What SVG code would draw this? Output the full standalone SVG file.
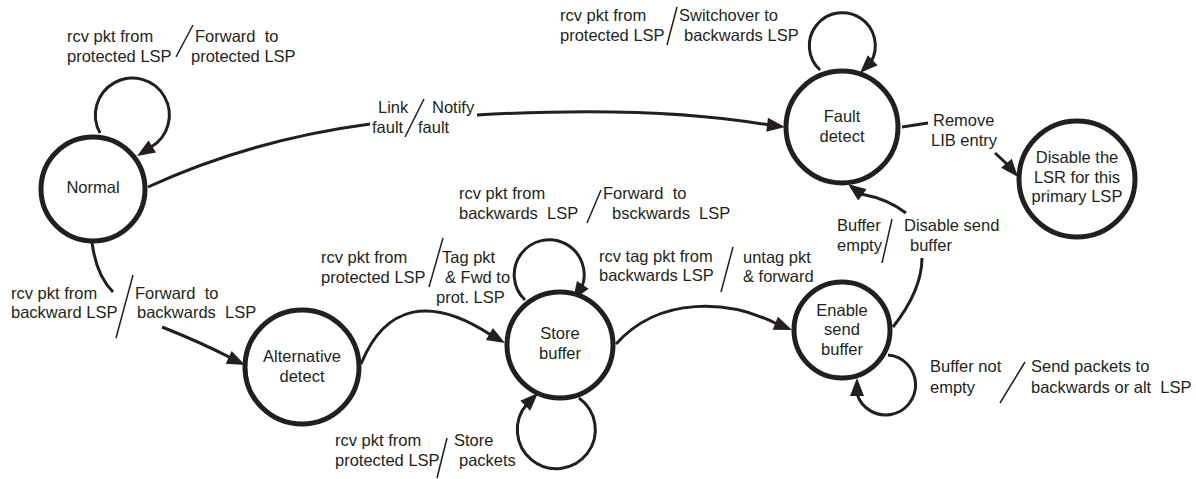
<svg xmlns="http://www.w3.org/2000/svg" xmlns:xlink="http://www.w3.org/1999/xlink" width="1196" height="479" viewBox="0 0 1196 479">
<style>
text{font-family:"Liberation Sans",Arial,sans-serif;font-size:16.5px;fill:#231f20}
.c{text-anchor:middle}
.node{fill:#fff;stroke:#231f20;stroke-width:5}
.edge{fill:none;stroke:#231f20;stroke-width:3}
.sl{fill:none;stroke:#231f20;stroke-width:1.5}
.ah{fill:#231f20}
</style>
<defs>
<path id="ah" d="M0,0 L-18,-7 L-18,7 Z"/>
</defs>
<rect width="1196" height="479" fill="#fff"/>
<g id="connectors">
<path class="edge" d="M100,133 A37,37 0 1 1 151,147"/>
<use href="#ah" class="ah" transform="translate(137,156) rotate(148)"/>
<path class="edge" d="M148,187 Q250,140 370,124"/>
<path class="edge" d="M477,115 C600,108 700,113 769,125"/>
<use href="#ah" class="ah" transform="translate(785,127) rotate(7)"/>
<path class="edge" d="M820,70 A33,33 0 1 1 871,62"/>
<use href="#ah" class="ah" transform="translate(860,73) rotate(135)"/>
<path class="edge" d="M902,127 L928,123"/>
<path class="edge" d="M995,153 L1008,165"/>
<use href="#ah" class="ah" transform="translate(1018,177) rotate(50)"/>
<path class="edge" d="M92,242 Q96,275 113,292"/>
<path class="edge" d="M162,327 Q200,342 231,358"/>
<use href="#ah" class="ah" transform="translate(245,365) rotate(25)"/>
<path class="edge" d="M361,364 C385,305 430,295 491,335"/>
<use href="#ah" class="ah" transform="translate(505,343) rotate(30)"/>
<path class="edge" d="M525,300 A35,35 0 1 1 582,287"/>
<use href="#ah" class="ah" transform="translate(573,300) rotate(123)"/>
<path class="edge" d="M579,398 A39,39 0 1 1 527,404"/>
<use href="#ah" class="ah" transform="translate(538,393) rotate(-45)"/>
<path class="edge" d="M616,344 C660,295 730,300 777,324"/>
<use href="#ah" class="ah" transform="translate(792,330) rotate(22)"/>
<path class="edge" d="M893,327 Q922,290 922,258"/>
<path class="edge" d="M906,213 Q888,199 861,194"/>
<use href="#ah" class="ah" transform="translate(848,184) rotate(-143)"/>
<path class="edge" d="M888,355 A30,30 0 1 1 857,394"/>
<use href="#ah" class="ah" transform="translate(857,378) rotate(-90)"/>
</g>
<g id="labels">
<text x="67" y="42">rcv pkt from</text>
<text x="67" y="62">protected LSP</text>
<path class="sl" d="M193,25 L176,57"/>
<text x="195" y="42" xml:space="preserve">Forward  to</text>
<text x="191" y="62">protected LSP</text>

<text x="378" y="113">Link</text>
<text x="372" y="133">fault</text>
<path class="sl" d="M424,99 L405,137"/>
<text x="432" y="113">Notify</text>
<text x="418" y="133">fault</text>

<text x="560" y="21">rcv pkt from</text>
<text x="560" y="41">protected LSP</text>
<path class="sl" d="M677,7 L667,45"/>
<text x="679" y="21">Switchover to</text>
<text x="684" y="41">backwards LSP</text>

<text x="933" y="126">Remove</text>
<text x="931" y="146">LIB entry</text>

<text x="837" y="231">Buffer</text>
<text x="837" y="251">empty</text>
<path class="sl" d="M892,219 L882,263"/>
<text x="904" y="231">Disable send</text>
<text x="910" y="251">buffer</text>

<text x="459" y="199">rcv pkt from</text>
<text x="459" y="219" xml:space="preserve">backwards  LSP</text>
<path class="sl" d="M601,190 L587,223"/>
<text x="603" y="199" xml:space="preserve">Forward  to</text>
<text x="612" y="219" xml:space="preserve">bsckwards  LSP</text>

<text x="321" y="263">rcv pkt from</text>
<text x="321" y="283">protected LSP</text>
<path class="sl" d="M443,238 L429,287"/>
<text x="442" y="263">Tag pkt</text>
<text x="445" y="283">&amp; Fwd to</text>
<text x="436" y="303">prot. LSP</text>

<text x="599" y="262">rcv tag pkt from</text>
<text x="599" y="281">backwards LSP</text>
<path class="sl" d="M733,247 L721,292"/>
<text x="743" y="263">untag pkt</text>
<text x="743" y="282">&amp; forward</text>

<text x="335" y="446">rcv pkt from</text>
<text x="335" y="466">protected LSP</text>
<path class="sl" d="M447,438 L437,478"/>
<text x="454" y="446">Store</text>
<text x="459" y="466">packets</text>

<text x="930" y="372">Buffer not</text>
<text x="930" y="393">empty</text>
<path class="sl" d="M1025,362 L1000,403"/>
<text x="1031" y="372">Send packets to</text>
<text x="1031" y="393" xml:space="preserve">backwards or alt  LSP</text>

<text x="11" y="299">rcv pkt from</text>
<text x="11" y="318">backward LSP</text>
<path class="sl" d="M133,275 L116,338"/>
<text x="135" y="299" xml:space="preserve">Forward  to</text>
<text x="137" y="318" xml:space="preserve">backwards  LSP</text>
</g>
<g id="normal">
<circle class="node" cx="93" cy="189" r="52"/>
<text class="c" x="93" y="193">Normal</text>
</g>
<g id="fault-detect">
<circle class="node" cx="842" cy="127" r="56"/>
<text class="c" x="842" y="122">Fault</text>
<text class="c" x="842" y="142">detect</text>
</g>
<g id="disable-lsr">
<circle class="node" cx="1077" cy="179" r="58"/>
<text class="c" x="1077" y="163">Disable the</text>
<text class="c" x="1077" y="183">LSR for this</text>
<text class="c" x="1077" y="202">primary LSP</text>
</g>
<g id="alternative-detect">
<circle class="node" cx="302" cy="367" r="57"/>
<text class="c" x="302" y="362">Alternative</text>
<text class="c" x="302" y="382">detect</text>
</g>
<g id="store-buffer">
<circle class="node" cx="560" cy="345" r="53"/>
<text class="c" x="560" y="339">Store</text>
<text class="c" x="560" y="359">buffer</text>
</g>
<g id="enable-send-buffer">
<circle class="node" cx="842" cy="330" r="48"/>
<text class="c" x="842" y="316">Enable</text>
<text class="c" x="842" y="335">send</text>
<text class="c" x="842" y="355">buffer</text>
</g>
</svg>
